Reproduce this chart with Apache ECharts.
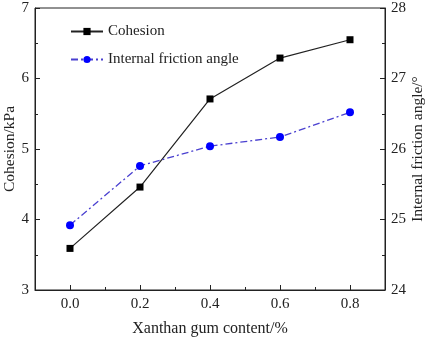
<!DOCTYPE html>
<html>
<head>
<meta charset="utf-8">
<script src="https://cdn.jsdelivr.net/npm/echarts@6/dist/echarts.min.js"></script>
<style>
  html, body { margin: 0; height: 100%; background: #fff; }
  #chart { width: 429px; height: 339px; }
</style>
</head>
<body>
<div id="chart"></div>
<script>
  // values
  const xanthan = [0.0, 0.2, 0.4, 0.6, 0.8];
  const cohesion = [3.59, 4.46, 5.71, 6.29, 6.55];
  const frictionAngle = [24.92, 25.76, 26.04, 26.17, 26.52];
  const xLabels = [0.0, 0.2, 0.4, 0.6, 0.8];
  const xMinor = [0.1, 0.3, 0.5, 0.7];

  const font = '"Liberation Serif", "Times New Roman", serif';
  const chart = echarts.init(document.getElementById('chart'), null, { renderer: 'canvas' });

  const pair = (xs, ys) => xs.map((x, i) => [x, ys[i]]);

  const yAxisBase = {
    type: 'value',
    interval: 1,
    nameLocation: 'middle',
    nameMoveOverlap: false,
    nameTextStyle: { fontFamily: font, fontSize: 15.5, color: '#222' },
    axisLine: { show: true, onZero: false, lineStyle: { color: '#222', width: 1 } },
    axisTick: { inside: true, length: 5, lineStyle: { color: '#222' } },
    minorTick: { show: true, splitNumber: 2, length: 3, lineStyle: { color: '#222' } },
    axisLabel: { fontFamily: font, fontSize: 15, color: '#222', margin: 6 },
    splitLine: { show: false }
  };

  const option = {
    animation: false,
    backgroundColor: '#fff',
    grid: {
      left: 35, right: 44, top: 8, bottom: 49,
      outerBoundsMode: 'none', containLabel: false,
      show: true, borderColor: '#222', borderWidth: 1
    },
    legend: {
      orient: 'vertical',
      left: 65,
      top: 19,
      itemGap: 13,
      itemWidth: 32,
      itemHeight: 9,
      textStyle: { fontFamily: font, fontSize: 15, color: '#222' },
      data: ['Cohesion', 'Internal friction angle']
    },
    xAxis: [{
      type: 'value',
      min: -0.1,
      max: 0.9,
      interval: 0.1,
      name: 'Xanthan gum content/%',
      nameLocation: 'middle',
      nameMoveOverlap: false,
      nameGap: 31,
      nameTextStyle: { fontFamily: font, fontSize: 16, color: '#222' },
      axisLine: { onZero: false, lineStyle: { color: '#222', width: 1 } },
      axisTick: { inside: true, length: 5, customValues: xLabels, lineStyle: { color: '#222' } },
      axisLabel: {
        customValues: xLabels,
        fontFamily: font, fontSize: 15, color: '#222', margin: 7,
        formatter: v => v.toFixed(1)
      },
      splitLine: { show: false }
    }, {
      type: 'value',
      position: 'bottom',
      min: -0.1,
      max: 0.9,
      interval: 0.1,
      axisLine: { show: false, onZero: false },
      axisTick: { inside: true, length: 3, customValues: xMinor, lineStyle: { color: '#222' } },
      axisLabel: { show: false },
      splitLine: { show: false }
    }],
    yAxis: [
      Object.assign({}, yAxisBase, {
        min: 3, max: 7, position: 'left',
        name: 'Cohesion/kPa', nameGap: 17
      }),
      Object.assign({}, yAxisBase, {
        min: 24, max: 28, position: 'right',
        name: 'Internal friction angle/°', nameGap: 25
      })
    ],
    series: [{
      name: 'Cohesion',
      type: 'line',
      xAxisIndex: 0,
      yAxisIndex: 0,
      data: pair(xanthan, cohesion),
      symbol: 'rect',
      symbolSize: 7,
      itemStyle: { color: '#000' },
      lineStyle: { color: '#222', width: 1.2 }
    }, {
      name: 'Internal friction angle',
      type: 'line',
      xAxisIndex: 0,
      yAxisIndex: 1,
      data: pair(xanthan, frictionAngle),
      symbol: 'circle',
      symbolSize: 8,
      itemStyle: { color: '#0000ff' },
      lineStyle: { color: '#4a40d0', width: 1.3, type: [7, 3, 2, 3] }
    }]
  };

  chart.setOption(option);
</script>
</body>
</html>
